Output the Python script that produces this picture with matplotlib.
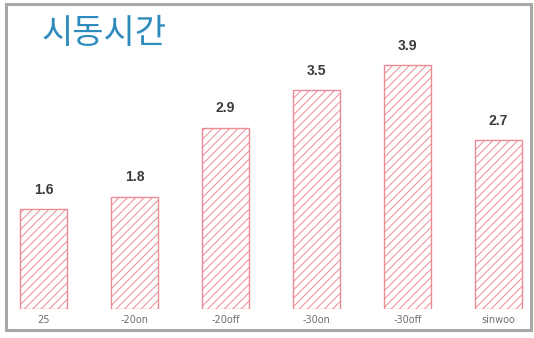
import matplotlib
matplotlib.use("Agg")
import matplotlib.pyplot as plt
from matplotlib.patches import Rectangle

plt.rcParams['font.family'] = ['Noto Sans CJK KR', 'DejaVu Sans']
plt.rcParams['hatch.linewidth'] = 0.7

title = "시동시간"
categories = ["25", "-20on", "-20off", "-30on", "-30off", "sinwoo"]
values = [1.6, 1.8, 2.9, 3.5, 3.9, 2.7]

W, H = 534, 338
fig = plt.figure(figsize=(W / 100, H / 100), dpi=100)
fig.patch.set_facecolor("white")

# grey frame around the panel
fig.patches.append(Rectangle((6 / W, 1 - 330 / H), (531 - 6) / W, (330 - 4) / H,
                             transform=fig.transFigure, fill=False,
                             edgecolor="#a8a8a8", linewidth=2.2))

# axes: baseline at y=309 px, top at y=5 px
ax = fig.add_axes([8 / W, 1 - 309 / H, (530 - 8) / W, (309 - 5) / H])
ax.set_xlim(-0.39, 5.35)
ax.set_ylim(0, (309 - 5) / 62.5)
ax.axis("off")

x = list(range(len(categories)))
bars = ax.bar(x, values, width=0.52, facecolor="white", edgecolor="#ec8a94",
              hatch="////", linewidth=1.0)

for xi, v in zip(x, values):
    ax.annotate(f"{v:.1f}", (xi, v), xytext=(0, 9), textcoords="offset points",
                ha="center", va="bottom", fontsize=10, fontweight="bold",
                color="#3a3a3a", family="Liberation Sans")
    ax.annotate(categories[xi], (xi, 0), xytext=(0, -4), textcoords="offset points",
                ha="center", va="top", fontsize=7, color="#707070",
                family="DejaVu Sans")

fig.text(41 / W, 1 - 33 / H, title, fontsize=24.5, color="#2e8bbd",
         fontweight="light", ha="left", va="center")

fig.savefig("out.png", dpi=100)
